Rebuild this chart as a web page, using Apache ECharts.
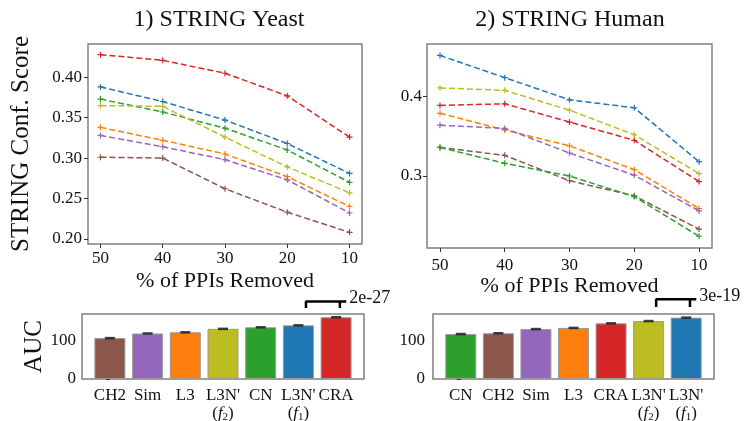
<!DOCTYPE html>
<html>
<head>
<meta charset="utf-8">
<script src="https://cdn.jsdelivr.net/npm/echarts@6/dist/echarts.min.js"></script>
<style>
  html, body { margin: 0; padding: 0; background: #fff; }
  #chart { width: 749px; height: 421px; }
</style>
</head>
<body>
<div id="chart"></div>
<script>
// % of PPIs removed (x of the line panels)
const removed = [50, 40, 30, 20, 10];

// 1) STRING Yeast - conf. score per method
const yeastCRA  = [0.428, 0.421, 0.405, 0.377, 0.326];
const yeastL3f1 = [0.388, 0.370, 0.347, 0.318, 0.281];
const yeastCN   = [0.373, 0.357, 0.337, 0.310, 0.270];
const yeastL3f2 = [0.365, 0.364, 0.326, 0.289, 0.257];
const yeastL3   = [0.338, 0.322, 0.305, 0.277, 0.240];
const yeastSim  = [0.328, 0.314, 0.298, 0.273, 0.232];
const yeastCH2  = [0.301, 0.300, 0.262, 0.233, 0.208];

// 2) STRING Human - conf. score per method
const humanL3f1 = [0.452, 0.424, 0.396, 0.386, 0.318];
const humanL3f2 = [0.411, 0.408, 0.383, 0.352, 0.303];
const humanCRA  = [0.389, 0.391, 0.368, 0.345, 0.293];
const humanL3   = [0.379, 0.358, 0.338, 0.308, 0.259];
const humanSim  = [0.364, 0.360, 0.329, 0.301, 0.256];
const humanCH2  = [0.336, 0.326, 0.294, 0.275, 0.233];
const humanCN   = [0.336, 0.316, 0.300, 0.274, 0.224];

// tick values
const yeastTicks = [0.20, 0.25, 0.30, 0.35, 0.40];
const humanTicks = [0.3, 0.4];
const aucTicks = [0, 100];

// AUC bars (sorted as in the picture)
const yeastBarNames = ['CH2', 'Sim', 'L3', 'L3f2', 'CN', 'L3f1', 'CRA'];
const yeastAUC      = [106, 118, 121, 130, 134, 139, 160];
const humanBarNames = ['CN', 'CH2', 'Sim', 'L3', 'CRA', 'L3f2', 'L3f1'];
const humanAUC      = [118, 120, 131, 134, 146, 152, 161];

const yeastPval = '2e-27';
const humanPval = '3e-19';

const colors = {
  L3f1: '#1f77b4', L3: '#ff7f0e', CN: '#2ca02c', CRA: '#d62728',
  Sim: '#9467bd', CH2: '#8c564b', L3f2: '#bcbd22'
};
const tickNames = {
  CH2: 'CH2', Sim: 'Sim', L3: 'L3', CN: 'CN', CRA: 'CRA',
  L3f2: "L3N'\n({f|f}{s|2})", L3f1: "L3N'\n({f|f}{s|1})"
};

const FONT = 'Liberation Serif';
const plus = 'path://M4,0h2v4h4v2h-4v4h-2v-4h-4v-2h4z';

function lineSeries(idx, name, vals) {
  return {
    type: 'line', name: name, xAxisIndex: idx, yAxisIndex: idx,
    data: removed.map((x, i) => [x, vals[i]]),
    lineStyle: { color: colors[name], width: 1.5, type: [6, 3] },
    itemStyle: { color: colors[name] },
    symbol: plus, symbolSize: 6, showSymbol: true
  };
}

function barSeries(idx, names, vals) {
  return [{
    type: 'bar', xAxisIndex: idx, yAxisIndex: idx, barWidth: 31, clip: false,
    data: vals.map((v, i) => ({
      value: [i, v],
      itemStyle: { color: colors[names[i]], borderColor: '#9a9a9a', borderWidth: 1 }
    }))
  }, {
    type: 'scatter', xAxisIndex: idx, yAxisIndex: idx, clip: false, z: 5,
    symbol: 'rect', symbolSize: [10, 2.5], itemStyle: { color: '#111' },
    data: vals.map((v, i) => [i, v])
  }];
}

function bracket(idx, yLow, yHigh, text) {
  return {
    type: 'line', xAxisIndex: idx, yAxisIndex: idx, clip: false, symbol: 'none',
    lineStyle: { color: '#000', width: 2.5 },
    data: [[5.2, yLow], [5.2, yHigh], [6.1, yHigh], [6.1, yLow], [6.1, yHigh], [6.27, yHigh]],
    endLabel: {
      show: true, formatter: text, distance: 3, offset: [0, -3],
      fontFamily: FONT, fontSize: 18, color: '#111'
    }
  };
}

const tickLabel = { fontFamily: FONT, fontSize: 17, color: '#111' };

function lineX(idx, margin) {
  return {
    type: 'value', gridIndex: idx, inverse: true, min: 8, max: 52,
    name: '% of PPIs Removed', nameLocation: 'middle', nameGap: 26,
    nameTextStyle: { fontFamily: FONT, fontSize: 22, color: '#111' },
    axisLine: { show: false }, splitLine: { show: false },
    axisTick: { show: true, length: 4, customValues: removed, lineStyle: { color: '#333' } },
    axisLabel: Object.assign({ margin: margin, customValues: removed }, tickLabel)
  };
}

function barX(idx, names) {
  const pos = names.map((n, i) => i);
  return {
    type: 'value', gridIndex: idx, min: -0.74, max: 6.74,
    axisLine: { show: false }, splitLine: { show: false },
    axisTick: { show: false, customValues: pos },
    axisLabel: Object.assign({
      margin: 8, lineHeight: 18, customValues: pos,
      formatter: v => tickNames[names[Math.round(v)]],
      rich: {
        f: { fontFamily: FONT, fontSize: 17, fontStyle: 'italic', color: '#111', lineHeight: 18 },
        s: { fontFamily: FONT, fontSize: 11, color: '#111', lineHeight: 18, verticalAlign: 'bottom' }
      }
    }, tickLabel)
  };
}

function barY(idx, max, margin, withName) {
  const ax = {
    type: 'value', gridIndex: idx, min: 0, max: max,
    axisLine: { show: false }, splitLine: { show: false },
    axisTick: { show: true, length: 4, customValues: aucTicks, lineStyle: { color: '#333' } },
    axisLabel: Object.assign({ margin: margin, customValues: aucTicks }, tickLabel)
  };
  if (withName) {
    Object.assign(ax, {
      name: 'AUC', nameLocation: 'middle', nameGap: 30,
      nameTextStyle: { fontFamily: FONT, fontSize: 25, color: '#111' }
    });
  }
  return ax;
}

const frame = { show: true, borderColor: '#808080', borderWidth: 1.5, outerBoundsMode: 'none', containLabel: false };

const option = {
  animation: false,
  backgroundColor: '#fff',
  title: [
    { text: '1) STRING Yeast', left: 214, top: 3, textAlign: 'center',
      textStyle: { fontFamily: FONT, fontSize: 24, fontWeight: 'normal', color: '#111' } },
    { text: '2) STRING Human', left: 565, top: 3, textAlign: 'center',
      textStyle: { fontFamily: FONT, fontSize: 24, fontWeight: 'normal', color: '#111' } }
  ],
  grid: [
    Object.assign({ left: 88, top: 44, width: 274, height: 200 }, frame),
    Object.assign({ left: 427, top: 44, width: 285, height: 204 }, frame),
    Object.assign({ left: 82, top: 314, width: 282, height: 65 }, frame),
    Object.assign({ left: 433, top: 314, width: 281, height: 65 }, frame)
  ],
  xAxis: [
    lineX(0, 6),
    lineX(1, 9),
    barX(2, yeastBarNames),
    barX(3, humanBarNames)
  ],
  yAxis: [
    {
      type: 'value', gridIndex: 0, min: 0.1936, max: 0.4412,
      name: 'STRING Conf. Score', nameLocation: 'middle', nameGap: 54,
      nameTextStyle: { fontFamily: FONT, fontSize: 25, color: '#111' },
      axisLine: { show: false }, splitLine: { show: false },
      axisTick: { show: true, length: 4, customValues: yeastTicks, lineStyle: { color: '#333' } },
      axisLabel: Object.assign({ margin: 6, customValues: yeastTicks, formatter: v => v.toFixed(2) }, tickLabel)
    },
    {
      type: 'value', gridIndex: 1, min: 0.2092, max: 0.4664,
      axisLine: { show: false }, splitLine: { show: false },
      axisTick: { show: true, length: 4, customValues: humanTicks, lineStyle: { color: '#333' } },
      axisLabel: Object.assign({ margin: 5, customValues: humanTicks, formatter: v => v.toFixed(1) }, tickLabel)
    },
    barY(2, 168.4, 6, true),
    barY(3, 170.5, 8, false)
  ],
  series: [
    lineSeries(0, 'CRA', yeastCRA),
    lineSeries(0, 'L3f1', yeastL3f1),
    lineSeries(0, 'CN', yeastCN),
    lineSeries(0, 'L3f2', yeastL3f2),
    lineSeries(0, 'L3', yeastL3),
    lineSeries(0, 'Sim', yeastSim),
    lineSeries(0, 'CH2', yeastCH2),
    lineSeries(1, 'L3f1', humanL3f1),
    lineSeries(1, 'L3f2', humanL3f2),
    lineSeries(1, 'CRA', humanCRA),
    lineSeries(1, 'L3', humanL3),
    lineSeries(1, 'Sim', humanSim),
    lineSeries(1, 'CH2', humanCH2),
    lineSeries(1, 'CN', humanCN),
    ...barSeries(2, yeastBarNames, yeastAUC),
    ...barSeries(3, humanBarNames, humanAUC),
    bracket(2, 184, 201, yeastPval),
    bracket(3, 189, 209, humanPval)
  ]
};

const chart = echarts.init(document.getElementById('chart'), null, { renderer: 'canvas' });
chart.setOption(option);
</script>
</body>
</html>
